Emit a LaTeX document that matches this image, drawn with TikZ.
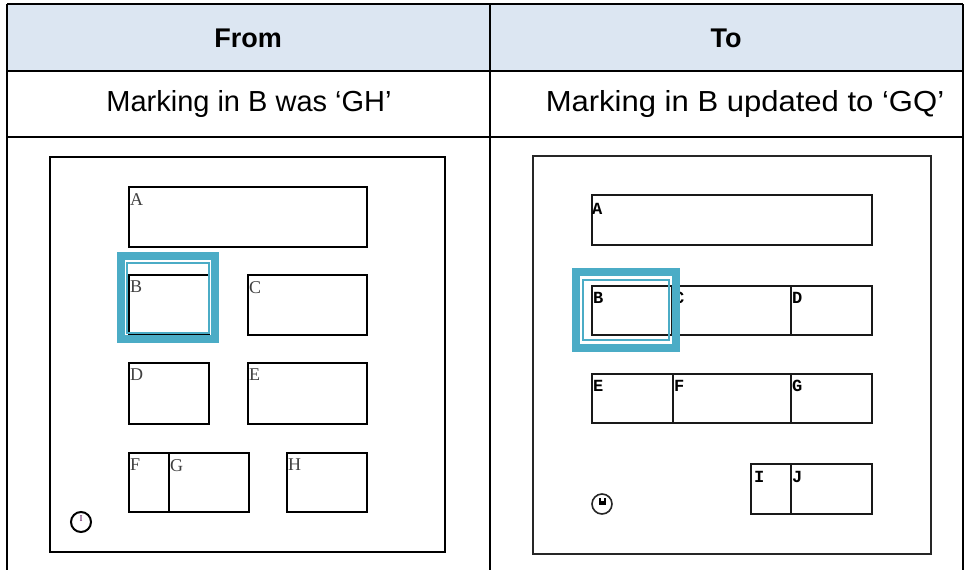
\documentclass[tikz,border=0pt]{standalone}
\usepackage{graphicx}
\usepackage{fontspec}
\setmainfont{Liberation Sans}
\newfontfamily\serifl{Liberation Serif}
\newfontfamily\monol{Liberation Mono}
\definecolor{hdrfill}{HTML}{DCE6F2}
\definecolor{hlteal}{HTML}{4BACC6}
\begin{document}
\begin{tikzpicture}[x=1pt,y=-1pt,
  tbl/.style={line width=2pt, draw=black},
  lbox/.style={draw=black, line width=2.8pt},
  rbox/.style={draw=black!90, line width=1.6pt},
  llab/.style={anchor=north west, inner sep=0pt, font=\serifl\fontsize{18}{18}\selectfont, text=black!75},
  rlab/.style={anchor=north west, inner sep=0pt, font=\monol\bfseries\fontsize{17}{17}\selectfont, text=black},
  hlthick/.style={draw=hlteal, line width=8pt},
  hlthin/.style={draw=hlteal, line width=2pt},
  hdr/.style={font=\bfseries\fontsize{27}{30}\selectfont, inner sep=0pt},
  sub/.style={font=\fontsize{29}{32}\selectfont, inner sep=0pt}]
\useasboundingbox (0,0) rectangle (965,570);
% table
\fill[hdrfill] (7,4) rectangle (963,71);
\draw[tbl] (7,4) -- (963,4);
\draw[tbl] (7,71) -- (963,71);
\draw[tbl] (7,137) -- (963,137);
\draw[tbl] (7,4) -- (7,570);
\draw[tbl] (963,4) -- (963,570);
\draw[tbl] (490,4) -- (490,570);
\node[hdr] (hfrom) at (248,38) {From};
\node[hdr] (hto) at (726,38) {To};
\node[sub] (sfrom) at (249,104) {Marking in B was ‘GH’};
\node[sub] (sto) at (745,104) {\scalebox{1.07}[1]{Marking in B updated to ‘GQ’}};

% ---------- left panel ----------
\draw[line width=2.2pt] (50,157) rectangle (445,552);
\draw[lbox] (129,187) rectangle (367,247);
\draw[lbox] (129,275) rectangle (209,334);
\draw[lbox] (248,275) rectangle (367,335);
\draw[lbox] (129,363) rectangle (209,424);
\draw[lbox] (248,363) rectangle (367,424);
\draw[lbox] (129,453) rectangle (169,512);
\draw[lbox] (169,453) rectangle (249,512);
\draw[lbox] (287,453) rectangle (367,512);
\node[llab] (lA) at (130,193) {A};
\node[llab] (lB) at (130,281) {B};
\node[llab] (lC) at (249,281) {C};
\node[llab] (lD) at (130,369) {D};
\node[llab] (lE) at (249,369) {E};
\node[llab] (lF) at (130,459) {F};
\node[llab] (lG) at (170,459) {G};
\node[llab] (lH) at (288,459) {H};
\draw[hlthick] (121,256) rectangle (215,339);
\draw[hlthin] (127,263) rectangle (209,333);
\draw[line width=2pt] (81,522) circle (10);
\node[inner sep=0pt, font=\serifl\fontsize{9}{9}\selectfont, text=violet!60!black] (lI) at (81,519) {I};

% ---------- right panel ----------
\draw[line width=1.6pt, draw=black!85] (533,156) rectangle (931,554);
\draw[rbox] (592,195) rectangle (872,245);
\draw[rbox] (592,286) rectangle (672,335);
\draw[rbox] (672,286) rectangle (791,335);
\draw[rbox] (791,286) rectangle (872,335);
\draw[rbox] (592,374) rectangle (673,423);
\draw[rbox] (673,374) rectangle (791,423);
\draw[rbox] (791,374) rectangle (872,423);
\draw[rbox] (751,464) rectangle (791,514);
\draw[rbox] (791,464) rectangle (872,514);
\node[rlab] (rA) at (592,203) {A};
\node[rlab] (rB) at (593,292) {B};
\node[rlab] (rC) at (674,292) {C};
\node[rlab] (rD) at (792,292) {D};
\node[rlab] (rE) at (593,380) {E};
\node[rlab] (rF) at (674,380) {F};
\node[rlab] (rG) at (792,380) {G};
\node[rlab] (rI) at (754,471) {I};
\node[rlab] (rJ) at (792,471) {J};
\draw[hlthick] (576,272) rectangle (676,348);
\draw[hlthin] (583,280) rectangle (669,340);
\draw[line width=1.6pt, draw=black!85] (602,504) circle (10);
\fill[black] (598.5,498) rectangle (605.5,504.5);
\fill[white] (600.5,498) rectangle (603.5,501);
\end{tikzpicture}
\end{document}
